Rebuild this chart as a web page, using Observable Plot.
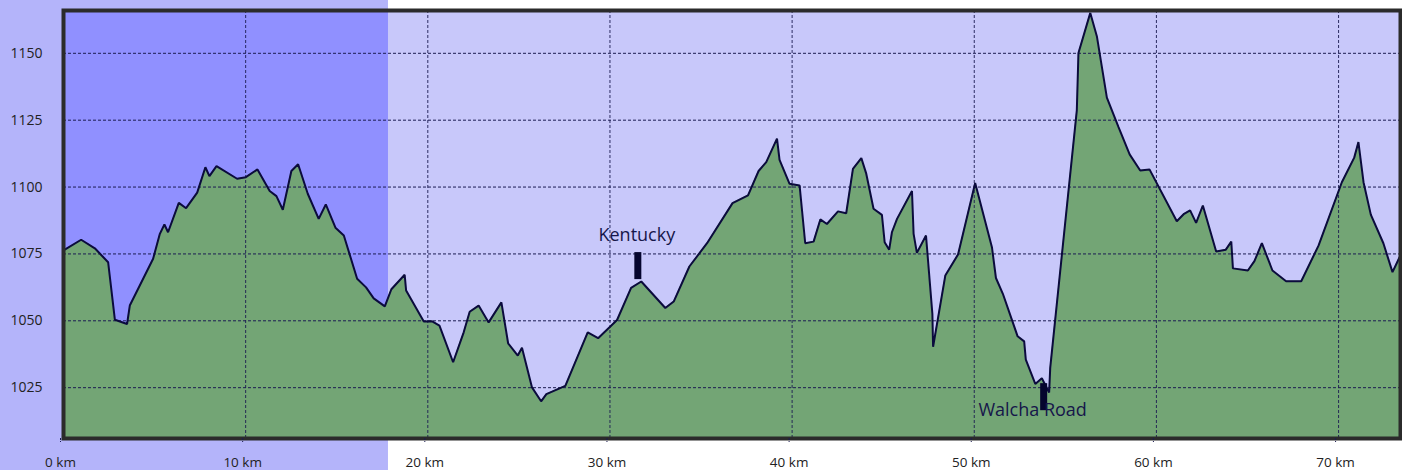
<!DOCTYPE html>
<html>
<head>
<meta charset="utf-8">
<script src="https://cdn.jsdelivr.net/npm/d3@7"></script>
<script src="https://cdn.jsdelivr.net/npm/@observablehq/plot@0.6"></script>
<style>
  html, body { margin: 0; padding: 0; background: #ffffff; }
  #chart svg { display: block; }
</style>
</head>
<body>
<div id="chart"></div>
<script>
// Distance along the route (km)
const distanceKm = [
  0, 0.97, 1.72, 2.45, 2.82, 3.49, 3.64, 4.92, 5.29, 5.54, 5.74, 6.33, 6.73, 7.34, 7.79, 8.01, 8.40,
  9.53, 10.01, 10.65, 11.32, 11.69, 12.04, 12.51, 12.88, 13.41, 14.01, 14.40, 14.93, 15.39, 16.12,
  16.61, 17.03, 17.64, 18.00, 18.73, 18.81, 19.78, 20.24, 20.64, 21.39, 21.97, 22.30, 22.79, 23.34,
  24.04, 24.41, 24.94, 25.17, 25.72, 26.22, 26.51, 27.55, 28.78, 29.35, 30.39, 31.16, 31.72, 33.04,
  33.50, 34.36, 35.33, 36.73, 37.58, 38.16, 38.58, 39.17, 39.31, 39.86, 40.41, 40.72, 41.18, 41.55,
  41.91, 42.52, 42.97, 43.34, 43.80, 44.07, 44.47, 44.93, 45.08, 45.33, 45.48, 45.76, 46.58, 46.67,
  46.85, 47.35, 47.70, 47.74, 48.41, 49.11, 50.05, 50.97, 51.19, 51.57, 52.38, 52.74, 52.83, 53.35,
  53.71, 54.11, 54.17, 55.63, 55.72, 56.37, 56.73, 57.28, 57.92, 58.53, 59.11, 59.62, 61.12, 61.52,
  61.85, 62.18, 62.55, 63.28, 63.81, 64.11, 64.20, 65.02, 65.38, 65.79, 66.37, 67.12, 67.95, 68.90,
  70.18, 70.86, 71.09, 71.37, 71.77, 72.46, 72.96, 73.40
];
// Elevation (m)
const elevationM = [
  1076.3, 1080.3, 1077.1, 1071.9, 1050.4, 1048.8, 1055.7, 1073.2, 1082.5, 1086.0, 1083.1, 1094.1, 1092.1, 1097.9, 1107.4, 1104.1, 1107.8,
  1103.1, 1103.7, 1106.6, 1098.5, 1096.6, 1091.5, 1106.0, 1108.5, 1097.5, 1088.1, 1093.5, 1084.8, 1081.9, 1065.7,
  1062.5, 1058.4, 1055.4, 1061.8, 1067.2, 1061.3, 1049.7, 1049.8, 1048.2, 1034.5, 1045.7, 1053.4, 1055.7, 1049.4,
  1056.9, 1041.6, 1037.0, 1039.9, 1025.1, 1019.9, 1022.6, 1025.7, 1045.7, 1043.5, 1050.3, 1062.3, 1064.7, 1054.8,
  1057.2, 1070.3, 1079.0, 1094.0, 1096.9, 1106.0, 1109.3, 1118.1, 1110.2, 1101.2, 1100.6, 1079.0, 1079.6, 1087.9,
  1086.2, 1090.9, 1090.2, 1106.8, 1110.8, 1105.0, 1091.9, 1089.6, 1079.4, 1076.6, 1083.1, 1088.1, 1098.5, 1082.5,
  1075.4, 1081.9, 1052.6, 1040.3, 1066.9, 1074.8, 1101.5, 1077.5, 1066.0, 1060.1, 1044.2, 1042.3, 1035.5, 1026.4,
  1028.5, 1023.2, 1032.4, 1128.7, 1150.1, 1165.1, 1156.4, 1133.4, 1122.4, 1112.2, 1106.2, 1106.6, 1087.2, 1090.0,
  1091.3, 1086.6, 1093.1, 1075.9, 1076.6, 1079.6, 1069.6, 1068.8, 1072.3, 1079.0, 1068.8, 1064.8, 1064.8, 1078.1,
  1101.8, 1111.0, 1116.8, 1101.8, 1089.7, 1079.0, 1068.2, 1074.5
];

// Highlighted stretch of the route (km)
const highlightStartKm = [0];
const highlightEndKm = [17.84];

// Places along the route
const placeNames = ["Kentucky", "Walcha Road"];
const placeKm = [31.53, 53.81];
const placeTopM = [1075.5, 1026.5];
const placeBottomM = [1065.4, 1016.4];

// Axis ticks
const kmTicks = [0, 10, 20, 30, 40, 50, 60, 70];
const kmGrid = [10, 20, 30, 40, 50, 60, 70];
const elevTicks = [1025, 1050, 1075, 1100, 1125, 1150];
const kmDomain = [0, 73.4];
const elevDomain = [1006, 1166];

const profile = distanceKm.map((d, i) => ({km: d, elev: elevationM[i]}));
const band = highlightStartKm.map((s, i) => ({x1: s, x2: highlightEndKm[i]}));
const places = placeNames.map((n, i) => ({name: n, km: placeKm[i], top: placeTopM[i], bottom: placeBottomM[i]}));

const W = 1402, H = 470;
const mL = 63, mR = 2, mT = 10, mB = 32;
const navy = "#0b0b3d";
const gridColor = "#1c1c52";

const chart = Plot.plot({
  width: W,
  height: H,
  marginLeft: mL,
  marginRight: mR,
  marginTop: mT,
  marginBottom: mB,
  style: {fontFamily: "'Open Sans', sans-serif", fontSize: "14px", background: "#ffffff", color: "#222"},
  x: {domain: kmDomain},
  y: {domain: elevDomain},
  marks: [
    // highlighted stretch, extending across the whole picture height
    Plot.rect(band, {x1: "x1", x2: "x2", fill: "#b4b4fa", insetLeft: -mL, insetTop: -mT, insetBottom: -mB}),
    // plot background
    Plot.frame({fill: "#c8c8fa", stroke: null}),
    Plot.rect(band, {x1: "x1", x2: "x2", fill: "#9090ff"}),
    // terrain
    Plot.areaY(profile, {x: "km", y: "elev", fill: "#73a575", clip: true}),
    // grid
    Plot.gridY({ticks: elevTicks, stroke: gridColor, strokeOpacity: 1, strokeWidth: 1, strokeDasharray: "3,2"}),
    Plot.gridX({ticks: kmGrid, stroke: gridColor, strokeOpacity: 0.9, strokeWidth: 1, strokeDasharray: "3,2"}),
    Plot.line(profile, {x: "km", y: "elev", stroke: navy, strokeWidth: 2, strokeLinejoin: "miter", clip: true}),
    // place markers
    Plot.ruleX(places, {x: "km", y1: "bottom", y2: "top", stroke: "#05052e", strokeWidth: 7}),
    Plot.text(places.filter(d => d.name === "Kentucky"), {x: "km", y: "top", text: "name", fill: "#16164a", fontSize: 18, dy: -17, dx: -1}),
    Plot.text(places.filter(d => d.name === "Walcha Road"), {x: "km", y: "bottom", text: "name", fill: "#16164a", fontSize: 18, dy: 0, dx: -11}),
    // frame
    Plot.frame({stroke: "#2b2b2b", strokeWidth: 4}),
    // axes
    Plot.axisY({ticks: elevTicks, tickFormat: d => String(d), tickSize: 0, tickPadding: 21, fontSize: 14, fill: "#222", label: null}),
    Plot.axisX({ticks: kmTicks, tickFormat: d => `${d} km`, tickSize: 4, tickPadding: 15, fontSize: 13.5, fill: "#222", stroke: gridColor, strokeDasharray: "2,1", dx: -3, label: null})
  ]
});

document.getElementById("chart").appendChild(chart);
</script>
</body>
</html>
